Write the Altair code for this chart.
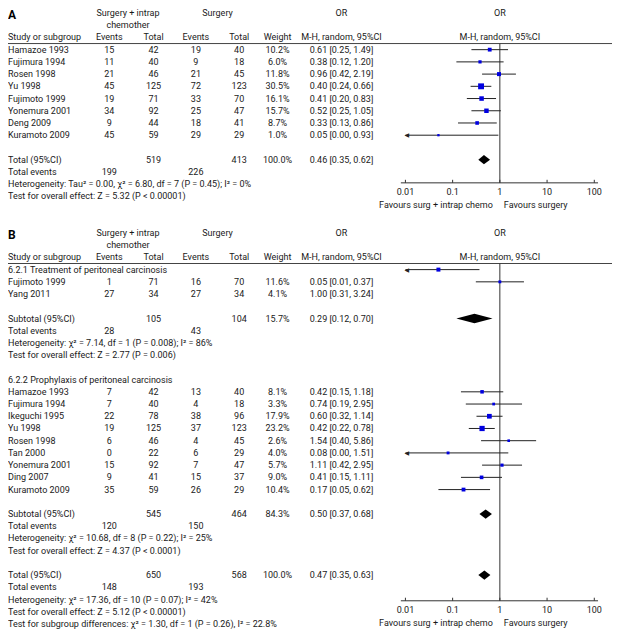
import altair as alt
import pandas as pd

# ---------------- data ----------------
# Panel A
A_study = ["Hamazoe 1993", "Fujimura 1994", "Rosen 1998", "Yu 1998",
           "Fujimoto 1999", "Yonemura 2001", "Deng 2009", "Kuramoto 2009"]
A_ev1 = [15, 11, 21, 45, 19, 34, 9, 45]
A_tot1 = [42, 40, 46, 125, 71, 92, 44, 59]
A_ev2 = [19, 9, 21, 72, 33, 25, 18, 29]
A_tot2 = [40, 18, 45, 123, 70, 47, 41, 29]
A_weight = [10.2, 6.0, 11.8, 30.5, 16.1, 15.7, 8.7, 1.0]
A_or = [0.61, 0.38, 0.96, 0.40, 0.41, 0.52, 0.33, 0.05]
A_lo = [0.25, 0.12, 0.42, 0.24, 0.20, 0.25, 0.13, 0.00]
A_hi = [1.49, 1.20, 2.19, 0.66, 0.83, 1.05, 0.86, 0.93]

# Panel B, subgroup 6.2.1
B1_title = "6.2.1 Treatment of peritoneal carcinosis"
B1_study = ["Fujimoto 1999", "Yang 2011"]
B1_ev1 = [1, 27]
B1_tot1 = [71, 34]
B1_ev2 = [16, 27]
B1_tot2 = [70, 34]
B1_weight = [11.6, 4.1]
B1_or = [0.05, 1.00]
B1_lo = [0.01, 0.31]
B1_hi = [0.37, 3.24]

# Panel B, subgroup 6.2.2
B2_title = "6.2.2 Prophylaxis of peritoneal carcinosis"
B2_study = ["Hamazoe 1993", "Fujimura 1994", "Ikeguchi 1995", "Yu 1998", "Rosen 1998",
            "Tan 2000", "Yonemura 2001", "Ding 2007", "Kuramoto 2009"]
B2_ev1 = [7, 7, 22, 19, 6, 0, 15, 9, 35]
B2_tot1 = [42, 40, 78, 125, 46, 22, 92, 41, 59]
B2_ev2 = [13, 4, 38, 37, 4, 6, 7, 15, 26]
B2_tot2 = [40, 18, 96, 123, 45, 29, 47, 37, 29]
B2_weight = [8.1, 3.3, 17.9, 23.2, 2.6, 4.0, 5.7, 9.0, 10.4]
B2_or = [0.42, 0.74, 0.60, 0.42, 1.54, 0.08, 1.11, 0.41, 0.17]
B2_lo = [0.15, 0.19, 0.32, 0.22, 0.40, 0.00, 0.42, 0.15, 0.05]
B2_hi = [1.18, 2.95, 1.14, 0.78, 5.86, 1.51, 2.95, 1.11, 0.62]

# Pooled results: A total, B subtotal 1, B subtotal 2, B total
S_label = ["Total (95%CI)", "Subtotal (95%CI)", "Subtotal (95%CI)", "Total (95%CI)"]
S_tot1 = [519, 105, 545, 650]
S_tot2 = [413, 104, 464, 568]
S_weight = [100.0, 15.7, 84.3, 100.0]
S_or = [0.46, 0.29, 0.50, 0.47]
S_lo = [0.35, 0.12, 0.37, 0.35]
S_hi = [0.62, 0.70, 0.68, 0.63]
S_ev1 = [199, 28, 120, 148]
S_ev2 = [226, 43, 150, 193]
S_het = [
    "Heterogeneity: Tau\u00b2 = 0.00, \u03c7\u00b2 = 6.80, df = 7 (P = 0.45); I\u00b2 = 0%",
    "Heterogeneity: \u03c7\u00b2 = 7.14, df = 1 (P = 0.008); I\u00b2 = 86%",
    "Heterogeneity: \u03c7\u00b2 = 10.68, df = 8 (P = 0.22); I\u00b2 = 25%",
    "Heterogeneity: \u03c7\u00b2 = 17.36, df = 10 (P = 0.07); I\u00b2 = 42%",
]
S_test = [
    "Test for overall effect: Z = 5.32 (P < 0.00001)",
    "Test for overall effect: Z = 2.77 (P = 0.006)",
    "Test for overall effect: Z = 4.37 (P < 0.0001)",
    "Test for overall effect: Z = 5.12 (P < 0.00001)",
]
SUBGROUP_TEST = "Test for subgroup differences: \u03c7\u00b2 = 1.30, df = 1 (P = 0.26), I\u00b2 = 22.8%"

TICKS = [0.01, 0.1, 1, 10, 100]
TICK_LABELS = ["0.01", "0.1", "1", "10", "100"]
FAV_LEFT = "Favours surg + intrap chemo"
FAV_RIGHT = "Favours surgery"

# ---------------- layout / style ----------------
W, H = 604, 621
FONT = "Roboto"
FS = 9
TXT = "#1a1a1a"
BLUE = "#0000e0"


def px(ref_x):
    return (ref_x - 3) * W / 614


COL = {"left": px(3), "grp1": px(125), "ev1": px(106), "tot1": px(151),
       "grp2": px(216), "ev2": px(194), "tot2": px(238), "wt": px(277),
       "or": px(342), "forest": px(503)}

yscale = alt.Scale(domain=[0, 50], range=[5, 616])
xtab = alt.Scale(domain=[0, W], range=[0, W])
fx = alt.Scale(type="log", domain=[0.01, 100], range=[px(407), px(599)])
DIA_H = 0.38

cells = []
forest = []
dia = []


def add(row, col, text, align="center"):
    cells.append({"row": row, "cx": COL[col], "text": str(text), "align": align})


def header(o):
    add(o + 0, "grp1", "Surgery + intrap")
    add(o + 1, "grp1", "chemother")
    add(o + 0, "grp2", "Surgery")
    add(o + 0, "or", "OR")
    add(o + 0, "forest", "OR")
    add(o + 2, "left", "Study or subgroup", "left")
    add(o + 2, "ev1", "Events")
    add(o + 2, "tot1", "Total")
    add(o + 2, "ev2", "Events")
    add(o + 2, "tot2", "Total")
    add(o + 2, "wt", "Weight")
    add(o + 2, "or", "M-H, random, 95%CI")
    add(o + 2, "forest", "M-H, random, 95%CI")


def studies(r0, names, e1, t1, e2, t2, w, o_, lo, hi, fshift=0):
    for i in range(len(names)):
        r = r0 + i
        add(r, "left", names[i], "left")
        add(r, "ev1", e1[i])
        add(r, "tot1", t1[i])
        add(r, "ev2", e2[i])
        add(r, "tot2", t2[i])
        add(r, "wt", f"{w[i]:.1f}%")
        add(r, "or", f"{o_[i]:.2f} [{lo[i]:.2f}, {hi[i]:.2f}]")
        forest.append({"frow": r + fshift, "or": o_[i], "lo": lo[i],
                       "lo_c": max(lo[i], 0.01), "hi": hi[i], "w": w[i]})


def summary(r, k):
    add(r, "left", S_label[k], "left")
    add(r, "tot1", S_tot1[k])
    add(r, "tot2", S_tot2[k])
    add(r, "wt", f"{S_weight[k]:.1f}%")
    add(r, "or", f"{S_or[k]:.2f} [{S_lo[k]:.2f}, {S_hi[k]:.2f}]")
    add(r + 1, "left", "Total events", "left")
    add(r + 1, "ev1", S_ev1[k])
    add(r + 1, "ev2", S_ev2[k])
    add(r + 2, "left", S_het[k], "left")
    add(r + 3, "left", S_test[k], "left")
    for x, dy in ((S_lo[k], 0), (S_or[k], DIA_H), (S_hi[k], 0)):
        dia.append({"id": k, "x": x, "top": r - dy, "bot": r + dy})


# Panel A (rows 0..)
header(0)
studies(3, A_study, A_ev1, A_tot1, A_ev2, A_tot2, A_weight, A_or, A_lo, A_hi)
summary(12, 0)

# Panel B (rows 18..)
B = 18
header(B)
add(B + 3, "left", B1_title, "left")
studies(B + 4, B1_study, B1_ev1, B1_tot1, B1_ev2, B1_tot2, B1_weight, B1_or, B1_lo, B1_hi, fshift=-1)
summary(B + 7, 1)
add(B + 12, "left", B2_title, "left")
studies(B + 13, B2_study, B2_ev1, B2_tot1, B2_ev2, B2_tot2, B2_weight, B2_or, B2_lo, B2_hi)
summary(B + 23, 2)
summary(B + 28, 3)
add(B + 32, "left", SUBGROUP_TEST, "left")

tbl = pd.DataFrame(cells)
fdf = pd.DataFrame(forest)
ddf = pd.DataFrame(dia)


def Y(f):
    return alt.Y(f, scale=yscale, axis=None)


t_center = alt.Chart(tbl).transform_filter("datum.align == 'center'").mark_text(
    font=FONT, fontSize=FS, align="center", baseline="middle", color=TXT
).encode(x=alt.X("cx:Q", scale=xtab, axis=None), y=Y("row:Q"), text="text:N")

t_left = alt.Chart(tbl).transform_filter("datum.align == 'left'").mark_text(
    font=FONT, fontSize=FS, align="left", baseline="middle", color=TXT
).encode(x=alt.X("cx:Q", scale=xtab, axis=None), y=Y("row:Q"), text="text:N")

labels = alt.Chart(pd.DataFrame({"row": [0, B], "text": ["A", "B"]})).mark_text(
    font=FONT, fontSize=12, fontWeight="bold", align="left", baseline="middle", dy=2, color="black"
).encode(x=alt.value(0), y=Y("row:Q"), text="text:N")

hlines = alt.Chart(pd.DataFrame({"row": [2.5, B + 2.5]})).mark_rule(
    color="#444", strokeWidth=1
).encode(x=alt.value(0), x2=alt.value(W), y=Y("row:Q"))

AX_ROW = [13.9, 48.1]
vline = alt.Chart(pd.DataFrame({"x": [1, 1], "r1": [2.5, B + 2.5], "r2": AX_ROW})).mark_rule(
    color="#333", strokeWidth=1
).encode(x=alt.X("x:Q", scale=fx, axis=None), y=Y("r1:Q"), y2="r2:Q")

ci = alt.Chart(fdf).mark_rule(color="#222", strokeWidth=1).encode(
    x=alt.X("lo_c:Q", scale=fx, axis=None), x2="hi:Q", y=Y("frow:Q"))

arrows = alt.Chart(fdf).transform_filter("datum.lo <= 0.01").mark_text(
    text="\u25c0", font="DejaVu Sans", fontSize=6, align="left", baseline="middle", dx=-1, color="#222"
).encode(x=alt.X("lo_c:Q", scale=fx, axis=None), y=Y("frow:Q"))

squares = alt.Chart(fdf).mark_point(shape="square", filled=True, opacity=1, color=BLUE).encode(
    x=alt.X("or:Q", scale=fx, axis=None), y=Y("frow:Q"),
    size=alt.Size("w:Q", scale=alt.Scale(domain=[0, 35], range=[4.3, 39.3]), legend=None))

diamonds = alt.Chart(ddf).mark_area(orient="vertical", color="black", opacity=1).encode(
    x=alt.X("x:Q", scale=fx, axis=None),
    y=alt.Y("top:Q", scale=yscale, axis=None, stack=None), y2="bot:Q", detail="id:N")

axline = alt.Chart(pd.DataFrame({"row": AX_ROW, "a": [0.008, 0.008], "b": [120, 120]})).mark_rule(
    color="#333", strokeWidth=1
).encode(x=alt.X("a:Q", scale=fx, axis=None), x2="b:Q", y=Y("row:Q"))

tick_rows = []
for ar in AX_ROW:
    for t, lab in zip(TICKS, TICK_LABELS):
        tick_rows.append({"t": t, "lab": lab, "r1": ar - 0.25, "r2": ar, "rl": ar + 0.73})
tdf = pd.DataFrame(tick_rows)

ticks = alt.Chart(tdf).mark_rule(color="#333", strokeWidth=1).encode(
    x=alt.X("t:Q", scale=fx, axis=None), y=Y("r1:Q"), y2="r2:Q")

ticklab = alt.Chart(tdf).mark_text(font=FONT, fontSize=FS, align="center", baseline="middle", color=TXT).encode(
    x=alt.X("t:Q", scale=fx, axis=None), y=Y("rl:Q"), text="lab:N")

FAV_ROW = [15.7, 49.9]
fav = pd.DataFrame({"x": [1, 1], "row": FAV_ROW})
fav_l = alt.Chart(fav).mark_text(text=FAV_LEFT, font=FONT, fontSize=FS, align="right",
                                 baseline="middle", dx=-7, color=TXT).encode(
    x=alt.X("x:Q", scale=fx, axis=None), y=Y("row:Q"))
fav_r = alt.Chart(fav).mark_text(text=FAV_RIGHT, font=FONT, fontSize=FS, align="left",
                                 baseline="middle", dx=4, color=TXT).encode(
    x=alt.X("x:Q", scale=fx, axis=None), y=Y("row:Q"))

chart = alt.layer(
    hlines, vline, axline, ticks, ci, arrows, squares, diamonds,
    t_center, t_left, labels, ticklab, fav_l, fav_r
).resolve_scale(x="independent").properties(
    width=W, height=H, padding=0, autosize=alt.AutoSizeParams(type="none")
).configure_view(stroke=None)

chart.save("out.html", embed_options={"renderer": "svg", "actions": False})
